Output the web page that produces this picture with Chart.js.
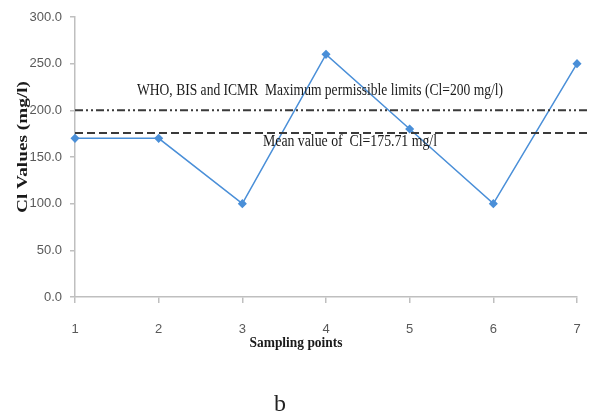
<!DOCTYPE html>
<html>
<head>
<meta charset="utf-8">
<script src="https://cdn.jsdelivr.net/npm/chart.js@4/dist/chart.umd.min.js"></script>
<style>
  body { margin: 0; background: #fff; }
  #wrap { width: 590px; height: 417px; }
</style>
</head>
<body>
<div id="wrap"><canvas id="myChart" width="590" height="417"></canvas></div>
<script>
// sampling points and chloride values (mg/l)
const samplingPoints = ["1", "2", "3", "4", "5", "6", "7"];
const clValues = [170, 170, 100, 260, 180, 100, 250];
const permissibleLimit = 200;
const meanValue = clValues.reduce((a, b) => a + b, 0) / clValues.length;

const limitLabel = "WHO, BIS and ICMR  Maximum permissible limits (Cl=200 mg/l)";
const meanLabel = "Mean value of  Cl=" + meanValue.toFixed(2) + " mg/l";
const yTitle = "Cl Values (mg/l)";
const xTitle = "Sampling points";
const panelLabel = "b";

const canvas = document.getElementById("myChart");

// text squeezed to a given width, like the scanned figure
function fitText(ctx, text, x, y, width, font, angle) {
  ctx.save();
  ctx.font = font;
  const w = ctx.measureText(text).width;
  ctx.translate(x, y);
  if (angle) ctx.rotate(angle);
  ctx.scale(width / w, 1);
  ctx.fillText(text, 0, 0);
  ctx.restore();
}

const refLines = {
  id: "refLines",
  afterDatasetsDraw(chart) {
    const ctx = chart.ctx;
    const yScale = chart.scales.y;
    const left = chart.chartArea.left;
    const right = chart.width;

    const yLimit = yScale.getPixelForValue(permissibleLimit);
    const yMean = yScale.getPixelForValue(meanValue);

    ctx.save();
    ctx.strokeStyle = "#3a3a3a";
    ctx.lineWidth = 2;
    ctx.setLineDash([8, 3, 2, 3, 2, 3]);
    ctx.beginPath();
    ctx.moveTo(left, yLimit);
    ctx.lineTo(right, yLimit);
    ctx.stroke();

    ctx.setLineDash([8, 4]);
    ctx.beginPath();
    ctx.moveTo(left, yMean);
    ctx.lineTo(right, yMean);
    ctx.stroke();
    ctx.restore();

    ctx.save();
    ctx.fillStyle = "#1a1a1a";
    ctx.textBaseline = "alphabetic";
    ctx.textAlign = "left";
    fitText(ctx, limitLabel, left + 62, yLimit - 15, 366, "16px 'Liberation Serif'");
    fitText(ctx, meanLabel, left + 188, yMean + 13, 174, "16px 'Liberation Serif'");

    // axis titles
    ctx.textAlign = "center";
    const area = chart.chartArea;
    fitText(ctx, yTitle, 27, (area.top + area.bottom) / 2 - 10, 132, "bold 15px 'Liberation Serif'", -Math.PI / 2);
    fitText(ctx, xTitle, 296, area.bottom + 50, 93, "bold 15px 'Liberation Serif'");

    ctx.fillStyle = "#222";
    ctx.font = "24px 'Liberation Serif'";
    ctx.fillText(panelLabel, 280, 411);
    ctx.restore();
  }
};

const tickFont = { family: "'Liberation Sans'", size: 13 };

new Chart(canvas, {
  type: "line",
  data: {
    labels: samplingPoints,
    datasets: [{
      label: "Cl",
      data: clValues,
      borderColor: "#4a8fd8",
      backgroundColor: "#4a8fd8",
      borderWidth: 1.5,
      pointStyle: "rectRot",
      pointRadius: 3.5,
      pointBackgroundColor: "#4a8fd8",
      pointBorderColor: "#4a8fd8",
      tension: 0,
      clip: false
    }]
  },
  options: {
    responsive: false,
    animation: false,
    layout: { padding: { top: 17, right: 13, left: 0, bottom: 0 } },
    plugins: {
      legend: { display: false },
      tooltip: { enabled: false }
    },
    scales: {
      x: {
        offset: false,
        grid: { drawOnChartArea: false, tickLength: 6, color: "#bfbfbf", lineWidth: 1.5 },
        border: { color: "#bfbfbf", width: 1.5 },
        ticks: { font: tickFont, color: "#595959", padding: 19 },
        afterFit(scale) {
          scale.height = 120;
          scale.paddingLeft = 0;
          scale.paddingRight = 0;
        }
      },
      y: {
        min: 0,
        max: 300,
        grid: { drawOnChartArea: false, tickLength: 5, color: "#bfbfbf", lineWidth: 1.5 },
        border: { color: "#bfbfbf", width: 1.5 },
        ticks: {
          stepSize: 50,
          font: tickFont,
          color: "#595959",
          padding: 8,
          callback: (v) => v.toFixed(1)
        },
        afterFit(scale) { scale.width = 75; }
      }
    }
  },
  plugins: [refLines]
});
</script>
</body>
</html>
